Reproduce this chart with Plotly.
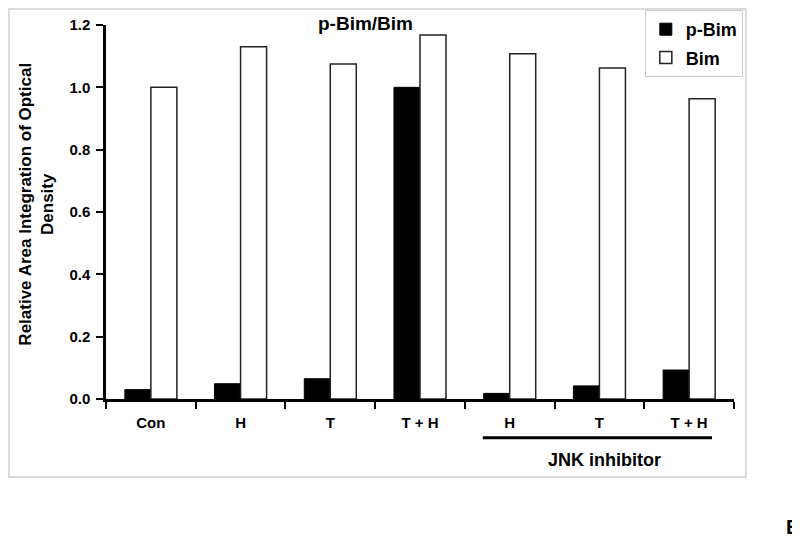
import plotly.graph_objects as go

# Values
groups = ["Con", "H", "T", "T + H", "H", "T", "T + H"]
p_bim = [0.03, 0.049, 0.065, 1.0, 0.018, 0.042, 0.093]
bim = [1.0, 1.13, 1.075, 1.168, 1.108, 1.062, 0.963]
y_ticks = [0.0, 0.2, 0.4, 0.6, 0.8, 1.0, 1.2]

x_pos = list(range(len(groups)))
font = "Liberation Sans, Arial, sans-serif"

fig = go.Figure()
fig.add_trace(go.Bar(x=x_pos, y=p_bim, name="p-Bim", legendgroup="a",
                     marker=dict(color="black", line=dict(color="black", width=1))))
fig.add_trace(go.Bar(x=x_pos, y=bim, name="Bim", legendgroup="b",
                     marker=dict(color="white", line=dict(color="#222222", width=1.5))))

# page body has an 8px margin, so the figure is a little smaller than the window
fig.update_layout(
    width=792, height=530,
    margin=dict(l=98, r=66, t=17, b=139, autoexpand=False),
    barmode="group", bargap=0.42, bargroupgap=0,
    plot_bgcolor="white", paper_bgcolor="white",
    font=dict(family=font, color="black"),
    legend=dict(x=0.858, y=1.0401, xanchor="left", yanchor="top",
                bordercolor="#cccccc", borderwidth=1, bgcolor="white",
                font=dict(size=18, family=font, weight="bold"),
                itemwidth=30, tracegroupgap=2),
)

fig.update_xaxes(
    range=[-0.5, 6.5], tickvals=x_pos, ticktext=groups, ticks="",
    showline=True, linecolor="black", linewidth=2.5, showgrid=False,
    tickfont=dict(size=15, family=font, weight="bold"), ticklabelstandoff=8,
    minor=dict(tickvals=[i - 0.5 for i in range(len(groups) + 1)],
               ticks="outside", ticklen=7, tickwidth=2, tickcolor="black"),
    zeroline=False,
)
fig.update_yaxes(
    range=[0, 1.2], tickvals=y_ticks, tickformat=".1f",
    ticks="outside", ticklen=7, tickwidth=2, tickcolor="black",
    showline=True, linecolor="black", linewidth=2.5, showgrid=False,
    zeroline=False, tickfont=dict(size=15, family=font, weight="bold"),
    ticklabelstandoff=3,
)

# outer frame
fig.add_shape(type="rect", xref="paper", yref="paper",
              x0=-0.1545, x1=1.019, y0=-0.2086, y1=1.0428,
              line=dict(color="#d0d0d0", width=1.5))

# JNK inhibitor bracket
fig.add_shape(type="line", xref="x", yref="paper",
              x0=3.70, x1=6.255, y0=-0.1035, y1=-0.1035,
              line=dict(color="black", width=3))
fig.add_annotation(x=5.057, y=-0.163, xref="x", yref="paper", text="JNK inhibitor",
                   xanchor="center", yanchor="middle", showarrow=False,
                   font=dict(size=18, family=font, weight="bold"))

fig.add_annotation(x=0.413, y=1.003, xref="paper", yref="paper", text="p-Bim/Bim",
                   xanchor="center", yanchor="middle", showarrow=False,
                   font=dict(size=19, family=font, weight="bold"))

fig.add_annotation(x=-0.1107, y=0.521, xref="paper", yref="paper",
                   text="Relative Area Integration of Optical<br>Density",
                   textangle=-90, xanchor="center", yanchor="middle", showarrow=False,
                   font=dict(size=17, family=font, weight="bold"))

# panel letter in the bottom-right corner
fig.add_annotation(x=1.080, y=-0.3075, xref="paper", yref="paper", text="E",
                   xanchor="left", yanchor="top", showarrow=False,
                   font=dict(size=20, family=font, weight="bold"))

fig.write_html("out.html")
